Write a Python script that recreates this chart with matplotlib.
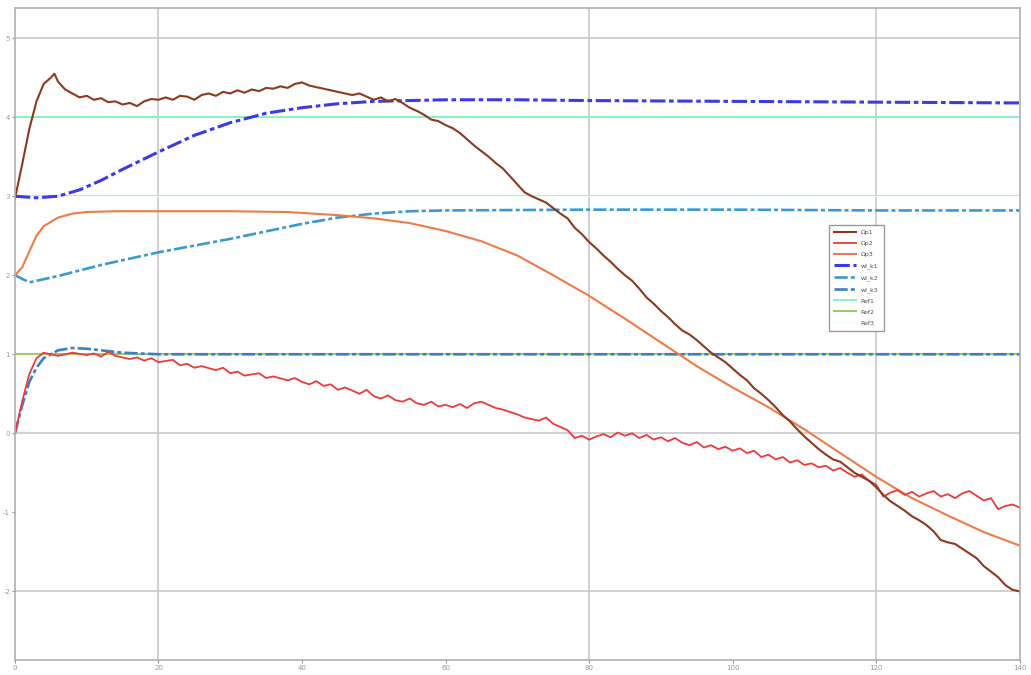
import numpy as np
import matplotlib.pyplot as plt

plt.rcParams['axes.unicode_minus'] = False

# --- data ---
x_p1 = [0, 1, 2, 3, 4, 5, 5.5, 6, 7, 8, 9, 10, 11, 12, 13, 14, 15, 16, 17, 18, 19, 20,
        21, 22, 23, 24, 25, 26, 27, 28, 29, 30, 31, 32, 33, 34, 35, 36, 37, 38, 39, 40,
        41, 42, 43, 44, 45, 46, 47, 48, 49, 50, 51, 52, 53, 54, 55, 56, 57, 58, 59, 60,
        61, 62, 63, 64, 65, 66, 67, 68, 69, 70, 71, 72, 73, 74, 75, 76, 77, 78, 79, 80,
        81, 82, 83, 84, 85, 86, 87, 88, 89, 90, 91, 92, 93, 94, 95, 96, 97, 98, 99, 100,
        101, 102, 103, 104, 105, 106, 107, 108, 109, 110, 111, 112, 113, 114, 115, 116,
        117, 118, 119, 120, 121, 122, 123, 124, 125, 126, 127, 128, 129, 130, 131, 132,
        133, 134, 135, 136, 137, 138, 139, 140]
y_p1 = [2.97, 3.4, 3.85, 4.2, 4.42, 4.5, 4.55, 4.45, 4.35, 4.3, 4.25, 4.27, 4.22, 4.24,
        4.19, 4.2, 4.16, 4.18, 4.14, 4.2, 4.23, 4.22, 4.25, 4.22, 4.27, 4.26, 4.22, 4.28,
        4.3, 4.27, 4.32, 4.3, 4.34, 4.31, 4.35, 4.33, 4.37, 4.36, 4.39, 4.37, 4.42, 4.44,
        4.4, 4.38, 4.36, 4.34, 4.32, 4.3, 4.28, 4.3, 4.26, 4.22, 4.25, 4.2, 4.23, 4.18,
        4.12, 4.08, 4.03, 3.97, 3.95, 3.9, 3.86, 3.8, 3.72, 3.64, 3.57, 3.5, 3.42, 3.35,
        3.25, 3.15, 3.05, 3.0, 2.96, 2.92, 2.85, 2.78, 2.72, 2.6, 2.52, 2.42, 2.34, 2.25,
        2.17, 2.08, 2.0, 1.93, 1.83, 1.72, 1.64, 1.55, 1.47, 1.38, 1.3, 1.25, 1.18, 1.1,
        1.02, 0.96, 0.9, 0.82, 0.74, 0.67, 0.57, 0.5, 0.42, 0.33, 0.23, 0.15, 0.05, -0.04,
        -0.12, -0.2, -0.27, -0.33, -0.36, -0.43, -0.5, -0.55, -0.6, -0.68, -0.78, -0.86,
        -0.92, -0.98, -1.05, -1.1, -1.16, -1.24, -1.35, -1.38, -1.4, -1.46, -1.52, -1.58,
        -1.68, -1.75, -1.82, -1.92, -1.98, -2.0]

x_p2 = [0, 1, 2, 3, 4, 5, 6, 8, 10, 11, 12, 13, 14, 16, 17, 18, 19, 20, 22, 23, 24, 25,
        26, 28, 29, 30, 31, 32, 34, 35, 36, 38, 39, 40, 41, 42, 43, 44, 45, 46, 47, 48,
        49, 50, 51, 52, 53, 54, 55, 56, 57, 58, 59, 60, 61, 62, 63, 64, 65, 66, 67, 68,
        69, 70, 71, 72, 73, 74, 75, 76, 77, 78, 79, 80, 81, 82, 83, 84, 85, 86, 87, 88,
        89, 90, 91, 92, 93, 94, 95, 96, 97, 98, 99, 100, 101, 102, 103, 104, 105, 106,
        107, 108, 109, 110, 111, 112, 113, 114, 115, 116, 117, 118, 119, 120, 121, 122,
        123, 124, 125, 126, 127, 128, 129, 130, 131, 132, 133, 134, 135, 136, 137, 138,
        139, 140]
y_p2 = [0, 0.4, 0.75, 0.95, 1.02, 1.0, 0.98, 1.02, 0.99, 1.01, 0.97, 1.03, 0.98, 0.94,
        0.96, 0.92, 0.95, 0.9, 0.93, 0.86, 0.88, 0.83, 0.85, 0.8, 0.83, 0.76, 0.78, 0.73,
        0.76, 0.7, 0.72, 0.67, 0.7, 0.65, 0.62, 0.66, 0.6, 0.62, 0.55, 0.58, 0.54, 0.5,
        0.55, 0.47, 0.44, 0.48, 0.42, 0.4, 0.44, 0.38, 0.36, 0.4, 0.34, 0.36, 0.33, 0.37,
        0.32, 0.38, 0.4, 0.36, 0.32, 0.3, 0.27, 0.24, 0.2, 0.18, 0.16, 0.2, 0.12, 0.08,
        0.04, -0.06, -0.03, -0.08, -0.04, -0.01, -0.05, 0.01, -0.03, 0.0, -0.06, -0.02,
        -0.08, -0.05, -0.1, -0.06, -0.12, -0.15, -0.11, -0.18, -0.15, -0.2, -0.17, -0.22,
        -0.19, -0.25, -0.22, -0.3, -0.27, -0.33, -0.3, -0.37, -0.34, -0.4, -0.38, -0.43,
        -0.41, -0.47, -0.44, -0.5, -0.55, -0.52, -0.6, -0.65, -0.8, -0.75, -0.72, -0.78,
        -0.74, -0.8, -0.76, -0.73, -0.8, -0.77, -0.82, -0.76, -0.73, -0.79, -0.85, -0.82,
        -0.96, -0.92, -0.9, -0.94]

x_p3 = [0, 1, 2, 3, 4, 6, 8, 10, 14, 20, 30, 38, 45, 50, 55, 60, 65, 70, 75, 80, 85, 90,
        95, 100, 105, 110, 115, 120, 125, 130, 135, 140]
y_p3 = [2.0, 2.1, 2.3, 2.5, 2.62, 2.73, 2.78, 2.8, 2.81, 2.81, 2.81, 2.8, 2.76, 2.72,
        2.66, 2.56, 2.43, 2.25, 2.0, 1.74, 1.45, 1.15, 0.85, 0.58, 0.33, 0.05, -0.25,
        -0.55, -0.82, -1.04, -1.25, -1.42]

x_k1 = [0, 3, 6, 9, 12, 15, 20, 25, 30, 35, 40, 45, 50, 55, 60, 70, 80, 100, 120, 140]
y_k1 = [3.0, 2.98, 3.0, 3.08, 3.2, 3.34, 3.56, 3.77, 3.93, 4.05, 4.12, 4.17, 4.2, 4.21,
        4.22, 4.22, 4.21, 4.2, 4.19, 4.18]

x_k2 = [0, 2, 6, 12, 20, 30, 40, 45, 50, 55, 60, 80, 100, 120, 140]
y_k2 = [2.0, 1.91, 1.99, 2.13, 2.29, 2.46, 2.65, 2.73, 2.78, 2.81, 2.82, 2.83, 2.83,
        2.82, 2.82]

x_k3 = [0, 1, 2, 3, 4, 6, 8, 10, 12, 15, 20, 140]
y_k3 = [0, 0.35, 0.65, 0.83, 0.95, 1.05, 1.08, 1.07, 1.05, 1.02, 1.0, 1.0]

x_ref = [0, 140]
ref1 = [4.0, 4.0]
ref2 = [1.0, 1.0]
ref3 = [3.0, 3.0]

labels = ['Ωp1', 'Ωp2', 'Ωp3', 'wl_k1', 'wl_k2', 'wl_k3', 'Ref1', 'Ref2', 'Ref3']

x_ticks = [0, 20, 40, 60, 80, 100, 120, 140]
y_ticks = [-2, -1, 0, 1, 2, 3, 4, 5]
x_grid = [20, 80, 120]
y_grid = [5, 3, 0, -2]

fig = plt.figure(figsize=(10.31, 6.75), dpi=100)
ax = fig.add_axes([0.0145, 0.022, 0.9745, 0.966])

for gx in x_grid:
    ax.axvline(gx, color='#c8c8c8', lw=1.2, zorder=0)
for gy in y_grid:
    ax.axhline(gy, color='#c8c8c8', lw=1.2, zorder=0)

dashdot = (0, (5, 1.2, 1.5, 1.2))

ax.plot(x_ref, ref1, color='#8ff0c0', lw=1.5, label=labels[6])
ax.plot(x_ref, ref2, color='#9ccc66', lw=1.5, label=labels[7])
ax.plot(x_ref, ref3, color='#f0fff6', lw=1.0, label=labels[8])

ax.plot(x_k1, y_k1, color='#3a3ae8', lw=2.2, ls=dashdot, label=labels[3])
ax.plot(x_k2, y_k2, color='#3a9ad0', lw=1.9, ls=dashdot, label=labels[4])
ax.plot(x_k3, y_k3, color='#3a80c8', lw=1.9, ls=dashdot, label=labels[5])

ax.plot(x_p3, y_p3, color='#f07a48', lw=1.5, label=labels[2])
ax.plot(x_p2, y_p2, color='#ee3a3a', lw=1.3, label=labels[1])
ax.plot(x_p1, y_p1, color='#8b3a1e', lw=1.5, label=labels[0])

ax.set_xlim(0, 140)
ax.set_ylim(-2.87, 5.38)
ax.set_xticks(x_ticks)
ax.set_yticks(y_ticks)
ax.tick_params(labelsize=5, colors='#999999', length=2, pad=1.5)
for s in ax.spines.values():
    s.set_color('#b0b0b0')
    s.set_linewidth(1.2)

h, l = ax.get_legend_handles_labels()
order = [l.index(n) for n in labels]
leg = ax.legend([h[i] for i in order], [l[i] for i in order],
                loc='upper left', bbox_to_anchor=(0.807, 0.672), fontsize=4.5,
                handlelength=3.5, labelspacing=0.9, borderpad=0.8,
                framealpha=1, edgecolor='#999999', fancybox=False)
for t in leg.get_texts():
    t.set_color('#555555')

fig.savefig('out.png', dpi=100)
